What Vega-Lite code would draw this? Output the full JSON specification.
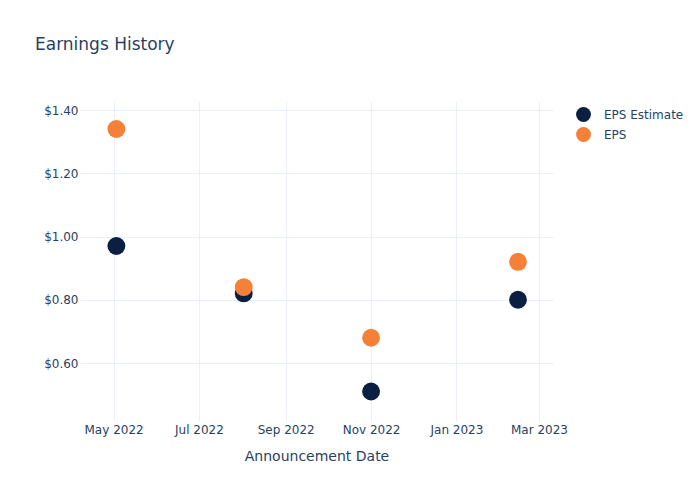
{
  "$schema": "https://vega.github.io/schema/vega-lite/v6.json",
  "width": 473,
  "height": 320,
  "autosize": {"type": "none"},
  "padding": {"left": 80, "top": 101, "right": 147, "bottom": 79},
  "background": "white",
  "config": {
    "font": "DejaVu Sans",
    "view": {"stroke": null},
    "axis": {
      "labelColor": "#2a3f5f",
      "titleColor": "#2a3f5f",
      "labelFont": "DejaVu Sans",
      "titleFont": "DejaVu Sans",
      "labelFontSize": 12,
      "titleFontSize": 14,
      "titleFontWeight": "normal",
      "gridColor": "#ebf0f8",
      "gridWidth": 1,
      "domain": false,
      "ticks": false
    }
  },
  "title": {
    "text": "Earnings History",
    "anchor": "start",
    "frame": "group",
    "dx": -45,
    "offset": 47,
    "fontSize": 17,
    "fontWeight": "normal",
    "color": "#2a3f5f",
    "font": "DejaVu Sans"
  },
  "data": {
    "values": [
      {"date": "2022-05-03", "series": "EPS Estimate", "value": 0.97},
      {"date": "2022-08-02", "series": "EPS Estimate", "value": 0.82},
      {"date": "2022-11-01", "series": "EPS Estimate", "value": 0.51},
      {"date": "2023-02-14", "series": "EPS Estimate", "value": 0.80},
      {"date": "2022-05-03", "series": "EPS", "value": 1.34},
      {"date": "2022-08-02", "series": "EPS", "value": 0.84},
      {"date": "2022-11-01", "series": "EPS", "value": 0.68},
      {"date": "2023-02-14", "series": "EPS", "value": 0.92}
    ]
  },
  "mark": {"type": "circle", "size": 320, "opacity": 1},
  "encoding": {
    "x": {
      "field": "date",
      "type": "temporal",
      "title": "Announcement Date",
      "scale": {"type": "utc", "domain": ["2022-04-07", "2023-03-11"]},
      "axis": {
        "tickCount": {"interval": "month", "step": 2},
        "format": "%b %Y",
        "labelPadding": 3,
        "titlePadding": 14,
        "labelFlush": false
      }
    },
    "y": {
      "field": "value",
      "type": "quantitative",
      "title": null,
      "scale": {"domain": [0.4166, 1.4285], "nice": false, "zero": false},
      "axis": {
        "values": [0.6, 0.8, 1.0, 1.2, 1.4],
        "format": "$.2f",
        "labelPadding": 2
      }
    },
    "color": {
      "field": "series",
      "type": "nominal",
      "sort": null,
      "scale": {"domain": ["EPS Estimate", "EPS"], "range": ["#0b1f42", "#f68038"]},
      "legend": {
        "title": null,
        "orient": "none",
        "legendX": 495,
        "legendY": 5,
        "symbolType": "circle",
        "symbolSize": 220,
        "symbolOpacity": 1,
        "labelFontSize": 12,
        "labelColor": "#2a3f5f",
        "labelFont": "DejaVu Sans",
        "labelOffset": 12,
        "rowPadding": 4
      }
    }
  }
}
